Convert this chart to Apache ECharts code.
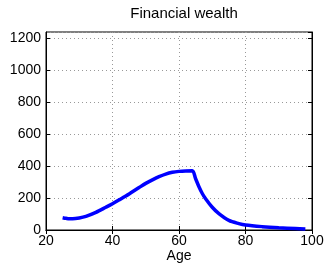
<!DOCTYPE html>
<html lang="en">
<head>
    <meta charset="UTF-8">
    <title>Financial wealth</title>
    <script type="text/javascript" src="https://cdn.jsdelivr.net/npm/echarts@6/dist/echarts.min.js"></script>
    <style>
        html, body { margin: 0; padding: 0; background: #fff; }
    </style>
</head>
<body>

<!-- chart area -->
<div id="main" style="width:325px;height:264px;"></div>

<script type="text/javascript">
    // ages and wealth
    var ages = [25, 26, 27, 28, 30, 32, 35, 38, 40, 42, 45, 48, 50, 52, 54, 56, 58, 60, 62, 64,
                65, 66, 67, 68, 70, 72, 75, 78, 80, 85, 90, 95, 98];
    var wealth = [77, 73, 70, 70, 75, 85, 110, 142, 164, 188, 225, 265, 291, 313, 333, 349, 360, 366, 369, 370,
                  320, 270, 228, 195, 142, 102, 60, 40, 31, 21, 14, 9, 6];
    var xTicks = [20, 40, 60, 80, 100];
    var yTicks = [0, 200, 400, 600, 800, 1000, 1200];

    var points = [];
    for (var i = 0; i < ages.length; i++) {
        points.push([ages[i], wealth[i]]);
    }

    var font = 'Liberation Sans, Arial, Helvetica, sans-serif';
    var gridLine = { show: true, lineStyle: { color: '#999', type: [1, 3], width: 1 } };
    var plain = function (v) { return String(v); };

    var option = {
        animation: false,
        title: {
            text: 'Financial wealth',
            left: 179,
            textAlign: 'center',
            top: 1,
            textStyle: { fontFamily: font, fontSize: 15, fontWeight: 'normal', color: '#000' }
        },
        grid: {
            left: 46, right: 13, top: 32, bottom: 34,
            outerBoundsMode: 'none',
            show: true, borderColor: '#000', borderWidth: 1
        },
        xAxis: [{
            type: 'value',
            min: xTicks[0],
            max: xTicks[xTicks.length - 1],
            interval: 20,
            name: 'Age',
            nameLocation: 'middle',
            nameGap: 19,
            nameMoveOverlap: false,
            nameTextStyle: { fontFamily: font, fontSize: 14, color: '#000' },
            axisLine: { show: true, lineStyle: { color: '#000', width: 1 } },
            axisTick: { show: true, inside: true, length: 4, lineStyle: { color: '#000' } },
            axisLabel: { fontFamily: font, fontSize: 14, color: '#000', margin: 4, formatter: plain },
            splitLine: gridLine
        }, {
            type: 'value', position: 'top',
            min: xTicks[0], max: xTicks[xTicks.length - 1], interval: 20,
            axisLine: { show: true, lineStyle: { color: '#000' } },
            axisTick: { show: true, inside: true, length: 4, lineStyle: { color: '#000' } },
            axisLabel: { show: false },
            splitLine: { show: false }
        }],
        yAxis: [{
            type: 'value',
            min: yTicks[0],
            max: 1236,
            interval: 200,
            axisLine: { show: true, lineStyle: { color: '#000', width: 1 } },
            axisTick: { show: true, inside: true, length: 4, lineStyle: { color: '#000' } },
            axisLabel: { fontFamily: font, fontSize: 14, color: '#000', margin: 5, showMaxLabel: false, formatter: plain },
            splitLine: gridLine
        }, {
            type: 'value', position: 'right',
            min: yTicks[0], max: 1236, interval: 200,
            axisLine: { show: true, lineStyle: { color: '#000' } },
            axisTick: { show: true, inside: true, length: 4, lineStyle: { color: '#000' } },
            axisLabel: { show: false },
            splitLine: { show: false }
        }],
        series: [{
            name: 'Financial wealth',
            type: 'line',
            data: points,
            smooth: 0.3,
            showSymbol: false,
            lineStyle: { color: '#0000ff', width: 3.5 }
        }]
    };

    var myChart = echarts.init(document.getElementById('main'));
    myChart.setOption(option);
</script>
</body>
</html>
